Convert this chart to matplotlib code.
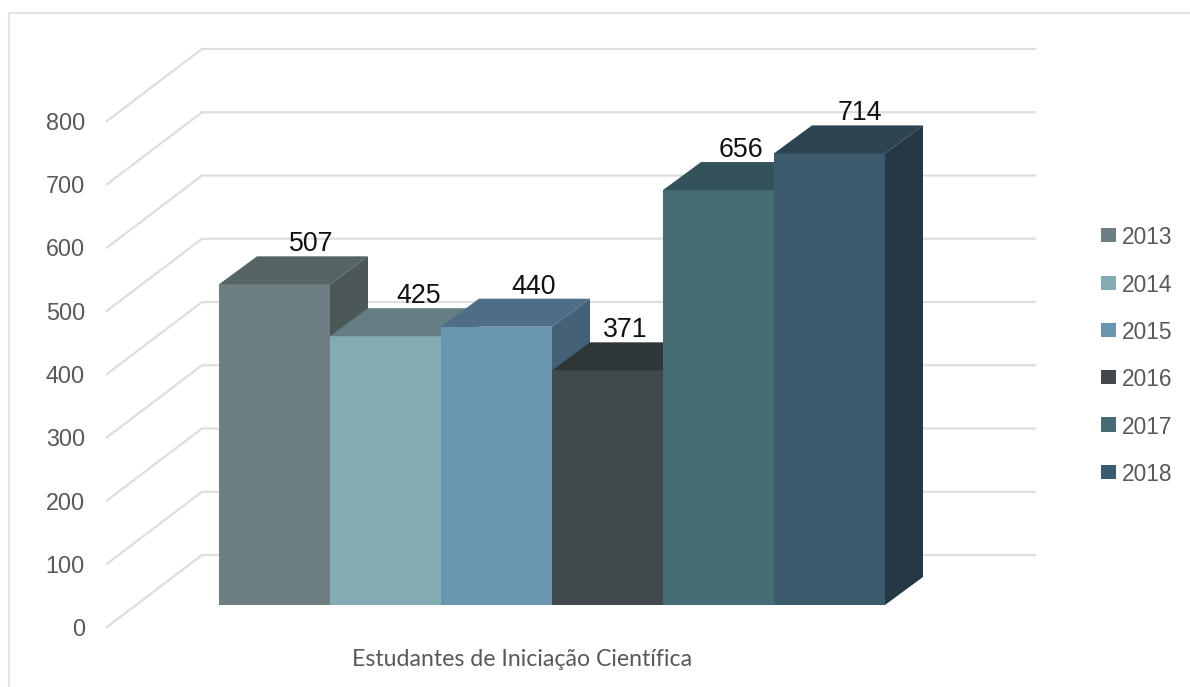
import matplotlib
matplotlib.use('Agg')
import matplotlib.pyplot as plt
from matplotlib.lines import Line2D
from matplotlib.patches import Polygon, Rectangle

years = ['2013', '2014', '2015', '2016', '2017', '2018']
students = [507, 425, 440, 371, 656, 714]
axis_ticks = [0, 100, 200, 300, 400, 500, 600, 700, 800]
axis_title = 'Estudantes de Iniciação Científica'

front_colors = ['#6E7F82', '#83ACB4', '#6A95AF', '#42494C', '#466C73', '#3C5B6D']
top_colors = ['#566464', '#647F83', '#4E6E85', '#2F3638', '#33525A', '#2D4351']
side_colors = ['#4C5757', '#587074', '#446178', '#292F31', '#2B464D', '#243945']
# horizontal nudge of each value label, in pixels
label_nudge = [-1, -5, -1, -20, -16, -8]

W, H = 1190, 687
bar_px = 111.0
unit_px = 0.6325
base_left, base_y = 219, 605

fig = plt.figure(figsize=(W / 100, H / 100), dpi=100)
ax = fig.add_axes([0, 0, 1, 1])
ax.set_xlim(-base_left / bar_px, (W - base_left) / bar_px)
ax.set_ylim(-(H - base_y) / unit_px, base_y / unit_px)
ax.axis('off')


def px_x(px):
    return (px - base_left) / bar_px


def px_y(px):
    return (base_y - px) / unit_px


depth_x = 38 / bar_px
depth_y = 28 / unit_px
wall_front = px_y(627)
wall_back = px_y(555)

# chart frame, open on the right and at the bottom
fig.add_artist(Line2D([9 / W, 9 / W, 1], [0, 1 - 13 / H, 1 - 13 / H], color='#E3E3E3', lw=1.5))

# gridlines run along the floor edge and then across the back wall
for t in axis_ticks:
    ax.plot([px_x(107), px_x(202), px_x(1035)],
            [t + wall_front, t + wall_back, t + wall_back],
            color='#DEDEDE', lw=1.6, zorder=1, solid_joinstyle='miter')
    ax.text(px_x(85), t + wall_front, str(t), ha='right', va='center_baseline', color='#595959',
            fontsize=16.8, family='Liberation Sans', zorder=2)

for i, v in enumerate(students):
    x0, x1 = i, i + 1
    ax.add_patch(Rectangle((x0, 0), 1, v, fc=front_colors[i], ec='none', zorder=3 + i))
    ax.add_patch(Polygon([(x0, v), (x1, v), (x1 + depth_x, v + depth_y), (x0 + depth_x, v + depth_y)],
                         closed=True, fc=top_colors[i], ec='none', zorder=3 + i))
    ax.add_patch(Polygon([(x1, 0), (x1 + depth_x, depth_y), (x1 + depth_x, v + depth_y), (x1, v)],
                         closed=True, fc=side_colors[i], ec='none', zorder=3 + i))
    ax.text(i + 0.5 + depth_x + label_nudge[i] / bar_px, v + depth_y + 15 / unit_px, str(v),
            ha='center', va='center_baseline', color='#111111', fontsize=19.3,
            family='Liberation Sans', zorder=20)

ax.text(px_x(522.5), px_y(658), axis_title, ha='center', va='center_baseline', color='#595959',
        fontsize=16.7, family='Lato', zorder=2)

# legend placed by hand, one swatch per year
legend_y = [235, 283, 330, 377, 424.5, 472]
for name, color, py in zip(years, front_colors, legend_y):
    ax.add_patch(Rectangle((px_x(1101.5), px_y(py + 7.25)), 14.5 / bar_px, 14.5 / unit_px,
                           fc=color, ec='none', zorder=2))
    ax.text(px_x(1122), px_y(py), name, ha='left', va='center_baseline', color='#595959',
            fontsize=16.4, family='Liberation Sans', zorder=2)

fig.savefig('out.png', dpi=100, facecolor='white')
